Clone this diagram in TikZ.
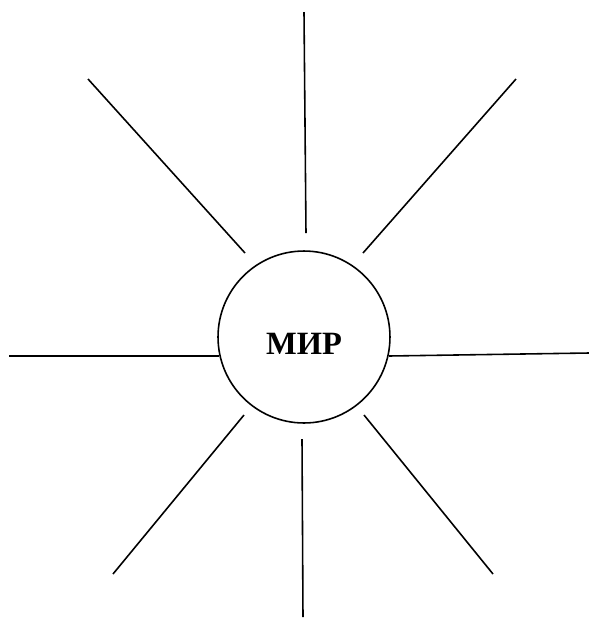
\documentclass[tikz,border=0pt]{standalone}
\usepackage{fontspec}
\setmainfont{Liberation Serif}
\usetikzlibrary{calc, positioning}

\begin{document}
\begin{tikzpicture}[x=0.02cm, y=-0.02cm, ray/.style={line width=0.9pt}]
\useasboundingbox (0,0) rectangle (589,620);
\node[draw, circle, line width=0.9pt, minimum size=3.44cm, inner sep=0pt] (W) at (304,337) {};
\node[font=\fontsize{18.5}{20}\selectfont\bfseries] (Wt) at (304,344) {МИР};
\coordinate (N1) at (304,12);   \coordinate (N2) at (306,233);
\coordinate (NW1) at (88,79);   \coordinate (NW2) at (245,253);
\coordinate (NE1) at (516,79);  \coordinate (NE2) at (363,253);
\coordinate (Wl1) at (9,356);   \coordinate (Wl2) at (219,356);
\coordinate (E1) at (589,353);  \coordinate (E2) at (389,356);
\coordinate (SW1) at (113,574); \coordinate (SW2) at (244,415);
\coordinate (SE1) at (493,574); \coordinate (SE2) at (364,415);
\coordinate (S1) at (303,617);  \coordinate (S2) at (302,439);
\foreach \r in {N, NW, NE, Wl, E, SW, SE, S}
  \draw[ray] (\r1) -- (\r2);
\end{tikzpicture}
\end{document}
